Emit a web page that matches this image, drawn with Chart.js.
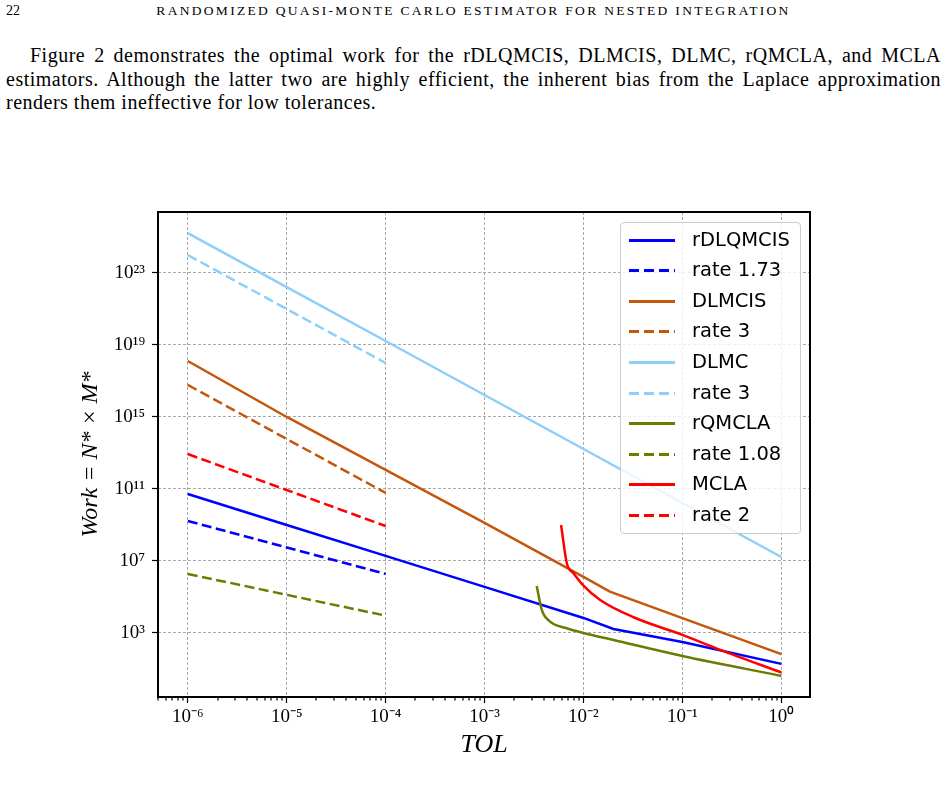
<!DOCTYPE html>
<html>
<head>
<meta charset="utf-8">
<script src="https://cdn.jsdelivr.net/npm/chart.js@4.4.1/dist/chart.umd.min.js"></script>
<style>
    html, body { margin: 0; padding: 0; background: #fff; }
    body { width: 947px; height: 794px; position: relative; overflow: hidden; font-family: 'Liberation Serif', serif; color: #000; }
    #pageNo { position: absolute; left: 6px; top: 3px; font-size: 14px; }
    #runHead { position: absolute; left: 0; width: 947px; top: 3px; font-size: 13.5px; text-align: center; letter-spacing: 2.3px; white-space: nowrap; }
    .pline { position: absolute; left: 6px; width: 935px; font-size: 20px; letter-spacing: 0.5px; line-height: 23px; text-align: justify; text-align-last: justify; }
    .pline.last { text-align-last: left; }
    #chart { position: absolute; left: 0; top: 0; }
    #legend { position: absolute; left: 620px; top: 222px; width: 179px; height: 310px; border: 1px solid #cccccc; border-radius: 4px; background: rgba(255,255,255,0.8); }
    .lrow { position: absolute; left: 0; height: 30px; width: 179px; }
    .lline { position: absolute; left: 8px; width: 46px; height: 3px; top: 14px; }
    .ltext { position: absolute; left: 71px; top: 2px; font-family: 'DejaVu Sans', sans-serif; font-size: 19.5px; line-height: 26px; white-space: nowrap; }
</style>
</head>
<body>
<div id="pageNo">22</div>
<div id="runHead">RANDOMIZED QUASI-MONTE CARLO ESTIMATOR FOR NESTED INTEGRATION</div>
<div class="pline" style="top:44px; text-indent:24px;">Figure 2 demonstrates the optimal work for the rDLQMCIS, DLMCIS, DLMC, rQMCLA, and MCLA</div>
<div class="pline" style="top:67.5px;">estimators. Although the latter two are highly efficient, the inherent bias from the Laplace approximation</div>
<div class="pline last" style="top:91px;">renders them ineffective for low tolerances.</div>

<canvas id="chart" width="947" height="794"></canvas>
<div id="legend"></div>

<script>
        // axis ranges and ticks
        const xMin = 5.0e-7;
        const xMax = 1.95;
        const yMin = 0.275;
        const yMax = 2.45e26;
        const xDecades = [1e-7, 1e-6, 1e-5, 1e-4, 1e-3, 1e-2, 1e-1, 1];
        const yTickValues = [1e3, 1e7, 1e11, 1e15, 1e19, 1e23];

        // rDLQMCIS
        const tolRDLQMCIS = [1e-6, 1e-5, 1e-4, 1e-3, 1e-2, 0.0201, 0.1, 1];
        const workRDLQMCIS = [5.25e10, 1.0e9, 1.9e7, 3.6e5, 6.8e3, 1.66e3, 316, 19];
        const tolRate173 = [1e-6, 1e-4];
        const workRate173 = [1.66e9, 1.9e6];

        // DLMCIS
        const tolDLMCIS = [1e-6, 1e-5, 1e-4, 1e-3, 1e-2, 0.0185, 0.1, 1];
        const workDLMCIS = [1.29e18, 1.0e15, 1.15e12, 1.29e9, 1.29e6, 1.95e5, 6.6e3, 66];
        const tolRate3a = [1e-6, 1e-4];
        const workRate3a = [6.0e16, 6.0e10];

        // DLMC
        const tolDLMC = [1e-6, 1e-5, 1e-4, 1e-3, 1e-2, 1e-1, 1];
        const workDLMC = [1.66e25, 1.66e22, 1.66e19, 1.66e16, 1.66e13, 1.66e10, 1.66e7];
        const tolRate3b = [1e-6, 1e-4];
        const workRate3b = [1.0e24, 1.0e18];

        // rQMCLA
        const tolRQMCLA = [3.37e-3, 3.79e-3, 4.6e-3, 6.79e-3, 1e-2, 0.0201, 0.1, 1];
        const workRQMCLA = [4.07e5, 1.9e4, 4.27e3, 1.82e3, 1.0e3, 407, 52.5, 4.07];
        const tolRate108 = [1e-6, 1e-4];
        const workRate108 = [1.9e6, 9.1e3];

        // MCLA
        const tolMCLA = [5.94e-3, 6.79e-3, 7.93e-3, 1e-2, 0.01476, 0.0321, 0.1, 0.2415, 1];
        const workMCLA = [1.0e9, 7.4e6, 2.09e6, 4.27e5, 6.76e4, 7.41e3, 776, 115, 6.3];
        const tolRate2 = [1e-6, 1e-4];
        const workRate2 = [8.7e12, 8.7e8];

        const seriesLabels = ['rDLQMCIS', 'rate 1.73', 'DLMCIS', 'rate 3', 'DLMC', 'rate 3', 'rQMCLA', 'rate 1.08', 'MCLA', 'rate 2'];
        const seriesColors = ['#0000ff', '#0000ff', '#c5560b', '#c5560b', '#8ccffa', '#8ccffa', '#6b7d00', '#6b7d00', '#ff0000', '#ff0000'];
        const seriesDashed = [false, true, false, true, false, true, false, true, false, true];
        const seriesCurved = [false, false, false, false, false, false, true, false, true, false];
        const seriesTol = [tolRDLQMCIS, tolRate173, tolDLMCIS, tolRate3a, tolDLMC, tolRate3b, tolRQMCLA, tolRate108, tolMCLA, tolRate2];
        const seriesWork = [workRDLQMCIS, workRate173, workDLMCIS, workRate3a, workDLMC, workRate3b, workRQMCLA, workRate108, workMCLA, workRate2];

        const dashPattern = [10, 4.5];
        const sup = { '-': '\u207B', '0': '\u2070', '1': '\u00B9', '2': '\u00B2', '3': '\u00B3', '4': '\u2074', '5': '\u2075', '6': '\u2076', '7': '\u2077', '8': '\u2078', '9': '\u2079' };

        function powLabel(v) {
            const e = Math.round(Math.log10(v));
            return '10' + String(e).split('').map(c => sup[c]).join('');
        }

        function isDecade(v) {
            const l = Math.log10(v);
            return Math.abs(l - Math.round(l)) < 1e-6;
        }

        // minor ticks 2..9 inside every decade
        const xTickValues = [];
        xDecades.forEach(d => {
            for (let k = 1; k <= 9; k++) {
                const v = d * k;
                if (v >= xMin && v <= xMax) xTickValues.push(v);
            }
        });

        const datasets = seriesLabels.map((label, i) => ({
            label: label,
            data: seriesTol[i].map((t, j) => ({ x: t, y: seriesWork[i][j] })),
            borderColor: seriesColors[i],
            backgroundColor: seriesColors[i],
            borderWidth: 2.5,
            borderDash: seriesDashed[i] ? dashPattern : [],
            pointRadius: 0,
            fill: false,
            tension: seriesCurved[i] ? 0.4 : 0,
            cubicInterpolationMode: seriesCurved[i] ? 'monotone' : 'default',
            order: -i
        }));

        const frame = {
            id: 'frame',
            afterDatasetsDraw(chart) {
                const { ctx, chartArea: a } = chart;
                ctx.save();
                ctx.strokeStyle = '#000';
                ctx.lineWidth = 2;
                ctx.setLineDash([]);
                ctx.strokeRect(a.left, a.top, a.right - a.left, a.bottom - a.top);
                ctx.restore();
            }
        };

        const serif = 'Liberation Serif';

        new Chart(document.getElementById('chart'), {
            type: 'line',
            data: { datasets: datasets },
            plugins: [frame],
            options: {
                responsive: false,
                animation: false,
                devicePixelRatio: 1,
                layout: { padding: { left: 0, right: 137, top: 212, bottom: 0 } },
                plugins: { legend: { display: false }, tooltip: { enabled: false } },
                scales: {
                    x: {
                        type: 'logarithmic',
                        min: xMin,
                        max: xMax,
                        afterBuildTicks: s => { s.ticks = xTickValues.map(v => ({ value: v })); },
                        afterFit: s => { s.height = 97; },
                        ticks: {
                            autoSkip: false,
                            maxRotation: 0,
                            padding: 3,
                            color: '#000',
                            font: { family: serif, size: 19 },
                            callback: v => isDecade(v) ? powLabel(v) : ''
                        },
                        grid: {
                            color: c => (c.tick && isDecade(c.tick.value)) ? '#a8a8a8' : 'rgba(0,0,0,0)',
                            lineWidth: c => (c.tick && isDecade(c.tick.value)) ? 1 : 0,
                            borderDash: [3, 2],
                            tickLength: 6,
                            tickColor: '#000',
                            tickWidth: 1.2,
                            tickBorderDash: c => (c.tick && isDecade(c.tick.value)) ? [] : [3.5, 100]
                        },
                        border: { display: false, dash: [3, 2] },
                        title: {
                            display: true,
                            text: 'TOL',
                            color: '#000',
                            font: { family: serif, size: 26, style: 'italic' },
                            padding: { top: 0, bottom: 33 }
                        }
                    },
                    y: {
                        type: 'logarithmic',
                        min: yMin,
                        max: yMax,
                        afterBuildTicks: s => { s.ticks = yTickValues.map(v => ({ value: v })); },
                        afterFit: s => { s.width = 158; },
                        ticks: {
                            autoSkip: false,
                            padding: 7,
                            color: '#000',
                            font: { family: serif, size: 19 },
                            callback: v => powLabel(v)
                        },
                        grid: {
                            color: '#a8a8a8',
                            lineWidth: 1,
                            borderDash: [3, 2],
                            tickLength: 6,
                            tickColor: '#000',
                            tickWidth: 1.2
                        },
                        border: { display: false, dash: [3, 2] },
                        title: {
                            display: true,
                            text: 'Work = N* \u00D7 M*',
                            color: '#000',
                            font: { family: serif, size: 24, style: 'italic' },
                            padding: { top: 76, bottom: 0 }
                        }
                    }
                }
            }
        });

        // legend built from the series lists
        const legend = document.getElementById('legend');
        legend.innerHTML = seriesLabels.map((label, i) => {
            const c = seriesColors[i];
            const bg = seriesDashed[i]
                ? `repeating-linear-gradient(to right, ${c} 0 10px, transparent 10px 15px)`
                : c;
            return `
                <div class="lrow" style="top:${1.5 + i * 30.6}px">
                    <div class="lline" style="background:${bg}"></div>
                    <div class="ltext">${label}</div>
                </div>`;
        }).join('');
</script>
</body>
</html>
